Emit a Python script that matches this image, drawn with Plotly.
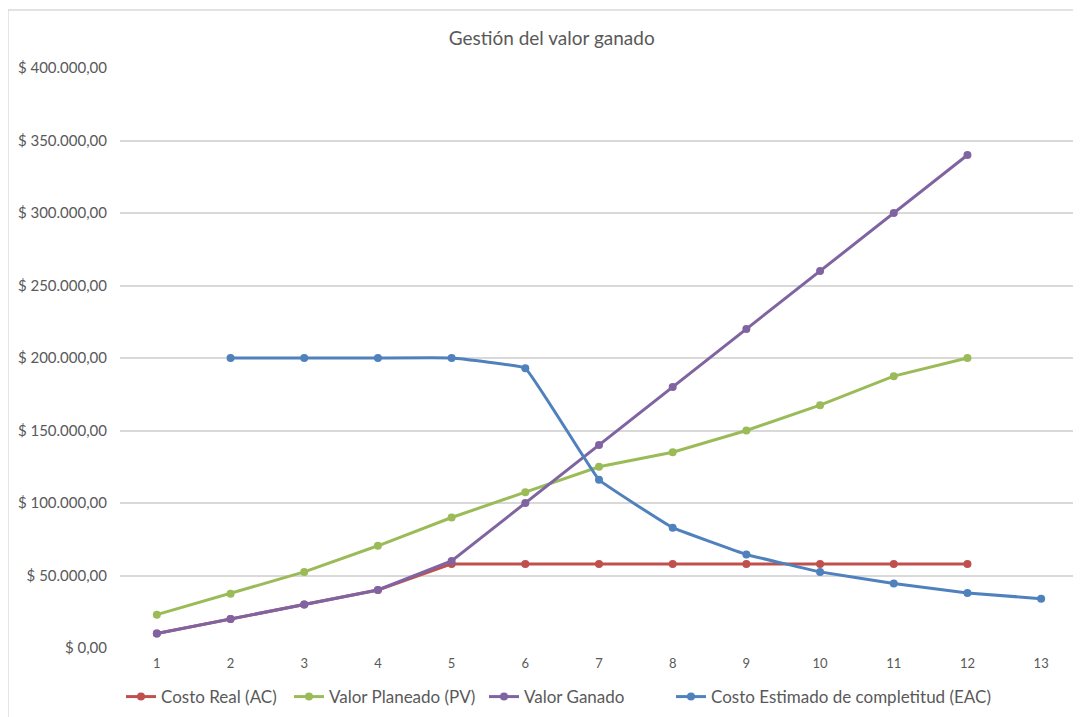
import plotly.graph_objects as go

periodos = list(range(1, 14))
costo_real = [10000, 20000, 30000, 40000, 58000, 58000, 58000, 58000, 58000, 58000, 58000, 58000, None]
valor_planeado = [23000, 37500, 52500, 70500, 90000, 107500, 125000, 135000, 150000, 167500, 187500, 200000, None]
valor_ganado = [10000, 20000, 30000, 40000, 60000, 100000, 140000, 180000, 220000, 260000, 300000, 340000, None]
eac = [None, 200000, 200000, 200000, 200000, 193000, 116000, 83000, 64500, 52500, 44500, 38000, 34000]

y_ticks = [0, 50000, 100000, 150000, 200000, 250000, 300000, 350000, 400000]
y_labels = ["$ 0,00", "$ 50.000,00", "$ 100.000,00", "$ 150.000,00", "$ 200.000,00",
            "$ 250.000,00", "$ 300.000,00", "$ 350.000,00", "$ 400.000,00"]

FONT = "Lato"
series = [
    ("Costo Real (AC)", costo_real, "#C0504D", "linear", "legend"),
    ("Valor Planeado (PV)", valor_planeado, "#9BBB59", "linear", "legend2"),
    ("Valor Ganado", valor_ganado, "#8064A2", "linear", "legend3"),
    ("Costo Estimado de completitud (EAC)", eac, "#4F81BD", "spline", "legend4"),
]
legend_x_px = [113, 281, 476, 663]

fig = go.Figure()
for name, vals, color, shape, lg in series:
    fig.add_trace(go.Scatter(
        x=periodos, y=vals, name=name, mode="lines+markers",
        line=dict(color=color, width=3, shape=shape, smoothing=0.2),
        marker=dict(color=color, size=8),
        connectgaps=False, legend=lg,
    ))

legend_common = dict(orientation="h", xanchor="left", xref="container",
                     yref="container", y=0.039, yanchor="middle",
                     font=dict(size=17, color="#595959", family=FONT),
                     itemwidth=30, bgcolor="rgba(0,0,0,0)")

fig.update_layout(
    width=1081, height=717,
    margin=dict(l=112, r=11, t=60, b=77, autoexpand=False),
    paper_bgcolor="white", plot_bgcolor="white",
    font=dict(family=FONT, color="#595959"),
    title=dict(text="Gestión del valor ganado", x=0.503, xanchor="center",
               xref="container", y=0.958, yref="container", yanchor="middle",
               font=dict(size=19, color="#595959", family=FONT)),
    showlegend=True,
    legend=dict(x=legend_x_px[0] / 1081, **legend_common),
    legend2=dict(x=legend_x_px[1] / 1081, **legend_common),
    legend3=dict(x=legend_x_px[2] / 1081, **legend_common),
    legend4=dict(x=legend_x_px[3] / 1081, **legend_common),
    shapes=[dict(type="rect", xref="paper", yref="paper",
                 x0=-0.117, x1=1.2, y0=-0.2, y1=1.1,
                 line=dict(color="#D9D9D9", width=1.5), fillcolor="rgba(0,0,0,0)", layer="below")],
)
fig.update_xaxes(
    range=[0.5, 13.5], tickvals=periodos, ticktext=[str(p) for p in periodos],
    showgrid=False, zeroline=False, showline=False,
    tickfont=dict(size=13, color="#595959", family=FONT), ticks="", ticklabelstandoff=6,
)
fig.update_yaxes(
    range=[0, 400000], tickvals=y_ticks, ticktext=y_labels,
    showgrid=True, gridcolor="#D9D9D9", gridwidth=1.5, zeroline=False, showline=False,
    tickfont=dict(size=15, color="#595959", family=FONT), ticks="", ticklabelstandoff=12,
)

fig.write_html("out.html")
